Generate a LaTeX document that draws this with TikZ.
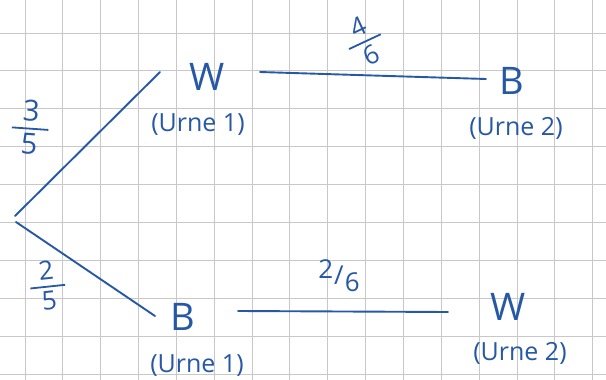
\documentclass[tikz,border=0pt]{standalone}
\usepackage{fontspec}
\setmainfont{Open Sans}
\definecolor{ink}{RGB}{38,88,165}
\definecolor{gridc}{RGB}{200,200,200}
\newcommand{\vfrac}[2]{\begin{tabular}{@{\hspace{10pt}}c@{\hspace{10pt}}}#1\\[-1pt]\hline\noalign{\vskip 4pt}#2\end{tabular}}
\setlength{\arrayrulewidth}{1.8pt}
\renewcommand{\arraystretch}{0.85}
\tikzset{
  branch/.style={draw=ink, line width=1.9pt, line cap=round},
  big/.style={text=ink, inner sep=0pt, font=\fontsize{38}{40}\selectfont},
  urne/.style={text=ink, inner sep=0pt, font=\fontsize{25}{28}\selectfont},
  prob/.style={text=ink, inner sep=0pt, font=\fontsize{26}{28}\selectfont},
}
\begin{document}
\begin{tikzpicture}[x=1pt,y=-1pt]
\useasboundingbox (0,0) rectangle (606,380);
\fill[white] (0,0) rectangle (606,380);
% graph paper
\foreach \i in {0,...,15} {
  \draw[gridc, line width=1pt] ({25+37.85*\i},0) -- ({25+37.85*\i},380);
}
\foreach \j in {0,...,9} {
  \draw[gridc, line width=1pt] (0,{33+37.9*\j}) -- (606,{33+37.9*\j});
}
% nodes
\coordinate (root) at (15,216);
\coordinate (rootb) at (16,222);
\node[big] (W1) at (207,77) {W};
\node[urne] (U1) at (198,125) {(Urne 1)};
\node[big] (B2) at (512,81) {B};
\node[urne] (U2) at (516,128) {(Urne 2)};
\node[big] (B1) at (183,317) {B};
\node[urne] (U1b) at (197,366) {(Urne 1)};
\node[big] (W2) at (508,307) {W};
\node[urne] (U2b) at (520,353) {(Urne 2)};
% branch ends
\coordinate (e1) at (160,72);
\coordinate (s2) at (260,72);
\coordinate (e2) at (486,79);
\coordinate (e3) at (155,316);
\coordinate (s4) at (238,311);
\coordinate (e4) at (448,312);
% connectors
\draw[branch] (root) -- (e1);
\draw[branch] (s2) -- (e2);
\draw[branch] (rootb) -- (e3);
\draw[branch] (s4) -- (e4);
% probabilities
\node[prob, rotate=-4, font=\fontsize{29}{30}\selectfont] (p1) at (30,131) {\vfrac{3}{5}};
\node[prob, rotate=6] (p2) at (48,289) {\vfrac{2}{5}};
\node[prob, rotate=25] (p3) at (366,44) {\vfrac{4}{6}};
\node[prob] (p4) at (339,276) {\raisebox{6pt}{2}\kern1pt/\kern1pt\raisebox{-7pt}{6}};
\end{tikzpicture}
\end{document}
